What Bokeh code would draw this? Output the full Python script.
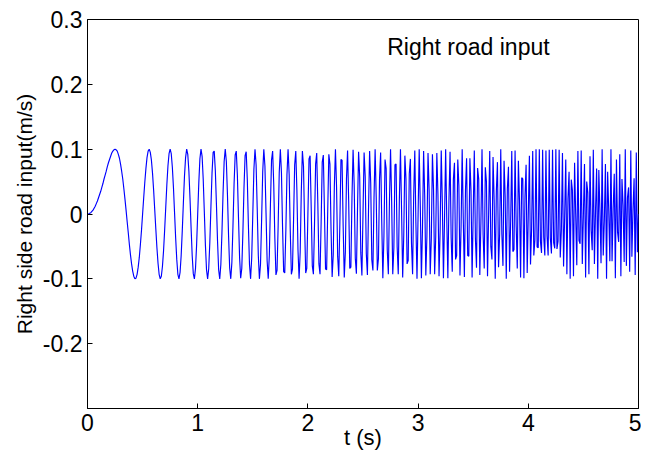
from bokeh.plotting import figure
from bokeh.models import FixedTicker, Label, ColumnDataSource
from bokeh.embed import file_html
from bokeh.resources import INLINE

SAMPLE_STEP_S = 0.01
ROAD_INPUT_MMS = [
    0, 0, 1, 2, 4, 6, 9, 12, 16, 20,
    25, 30, 35, 41, 47, 54, 60, 66, 73, 79,
    84, 89, 94, 97, 99, 100, 99, 97, 92, 86,
    77, 66, 54, 39, 23, 6, -12, -29, -47, -63,
    -77, -88, -96, -100, -99, -93, -82, -67, -47, -25,
    0, 25, 49, 70, 87, 97, 100, 95, 83, 63,
    37, 7, -23, -52, -76, -93, -100, -96, -81, -57,
    -25, 10, 45, 74, 93, 100, 93, 72, 41, 2,
    -37, -70, -93, -100, -90, -64, -26, 17, 58, 87,
    100, 92, 66, 25, -21, -64, -92, -100, -84, -48,
    0, 48, 85, 100, 89, 54, 4, -48, -86, -100,
    -84, -44, 11, 63, 95, 97, 67, 15, -42, -86,
    -100, -78, -29, 32, 81, 100, 81, 30, -33, -83,
    -100, -75, -19, 46, 91, 97, 60, -5, -67, -99,
    -84, -29, 40, 90, 96, 54, -17, -78, -100, -68,
    0, 69, 100, 76, 9, -64, -100, -77, -9, 65,
    100, 74, 2, -72, -100, -64, 14, 83, 97, 46,
    -37, -94, -87, -18, 64, 100, 64, -20, -89, -91,
    -25, 61, 100, 61, -26, -93, -85, -8, 76, 97,
    37, -55, -100, -59, 34, 97, 74, -15, -91, -84,
    0, 85, 90, 10, -80, -93, -16, 77, 94, 17,
    -77, -93, -14, 80, 91, 6, -85, -86, 6, 92,
    77, -23, -97, -63, 43, 100, 42, -65, -96, -15,
    84, 83, -19, -98, -58, 54, 98, 20, -84, -82,
    25, 99, 45, -68, -92, 6, 96, 57, -60, -95,
    0, 95, 58, -61, -94, 6, 97, 48, -71, -87,
    25, 100, 26, -87, -69, 54, 95, -10, -99, -34,
    84, 70, -55, -93, 19, 100, 19, -93, -52, 76,
    77, -51, -93, 22, 100, 6, -98, -32, 90, 54,
    -77, -72, 62, 85, -45, -93, 29, 98, -14, -100,
    0, 100, 12, -99, -21, 97, 28, -95, -34, 94,
    37, -93, -38, 92, 38, -93, -35, 94, 31, -96,
    -25, 98, 17, -99, -6, 100, -6, -99, 21, 96,
    -37, -89, 53, 79, -70, -64, 84, 44, -95, -20,
    100, -8, -97, 37, 86, -64, -65, 86, 36, -98,
    0, 98, -38, -83, 71, 54, -94, -13, 100, -32,
    -84, 72, 50, -96, -1, 97, -50, -70, 88, 22,
    -100, 35, 80, -82, -31, 100, -31, -80, 82, 27,
    -100, 39, 73, -89, -11, 97, -58, -55, 98, -18,
    -84, 82, 21, -98, 56, 54, -99, 27, 76, -91,
    0, 90, -78, -23, 97, -64, -40, 100, -51, -52,
    100, -42, -60, 99, -36, -64, 98, -34, -64, 99,
    -37, -61, 99, -44, -53, 100, -54, -42, 99, -67,
    -25, 94, -81, -3, 84, -93, 24, 65, -100, 53,
    37, -96, 79, 0, -79, 97, -41, -46, 98, -77,
    0, 77, -98, 50, 33, -93, 89, -25, -56, 99,
    -77, 5, 70, -100, 68, 6, -76, 100, -64, -10,
    77, -100, 65, 5, -73, 100, -73, 7, 62, -99,
    84, -28, -43, 92, -96, 54, 14, -74, 100, -80,
    25, 41, -89, 98, -66, 6, 55, -94, 95, -59,
    0,
]

X_TICKS = [0, 1, 2, 3, 4, 5]
Y_TICKS = [-0.2, -0.1, 0, 0.1, 0.2, 0.3]
Y_TICK_LABELS = ["-0.2", "-0.1", "0", "0.1", "0.2", "0.3"]
TITLE_TEXT = "Right road input"
X_LABEL = "t (s)"
Y_LABEL = "Right side road input(m/s)"

t = [i * SAMPLE_STEP_S for i in range(len(ROAD_INPUT_MMS))]
y = [v / 1000.0 for v in ROAD_INPUT_MMS]
src = ColumnDataSource(data=dict(t=t, y=y))

FONT = "Liberation Sans"

p = figure(frame_width=551, frame_height=389, x_range=(0, 5), y_range=(-0.3, 0.3),
           output_backend="svg", toolbar_location=None,
           min_border_left=87, min_border_right=3, min_border_top=19, min_border_bottom=10)
p.background_fill_color = "white"
p.border_fill_color = "white"
p.outline_line_color = "black"
p.outline_line_width = 1
p.xgrid.visible = False
p.ygrid.visible = False

p.line("t", "y", source=src, line_color="#0000ff", line_width=1.15)

p.xaxis.ticker = FixedTicker(ticks=X_TICKS)
p.yaxis.ticker = FixedTicker(ticks=Y_TICKS)
p.yaxis.major_label_overrides = dict(zip(Y_TICKS, Y_TICK_LABELS))
p.xaxis.axis_label = X_LABEL
p.yaxis.axis_label = Y_LABEL
for ax in (p.xaxis[0], p.yaxis[0]):
    ax.axis_line_color = "black"
    ax.major_tick_line_color = "black"
    ax.major_tick_in = 5
    ax.major_tick_out = 0
    ax.minor_tick_line_color = None
    ax.major_label_text_font = FONT
    ax.major_label_text_font_size = "23px"
    ax.major_label_text_color = "black"
    ax.axis_label_text_font = FONT
    ax.axis_label_text_font_size = "22px"
    ax.axis_label_text_font_style = "normal"
    ax.axis_label_text_color = "black"
p.yaxis.axis_label_text_font_size = "21px"
p.xaxis.major_label_standoff = 5
p.xaxis.axis_label_standoff = -9
p.yaxis.major_label_standoff = 5
p.yaxis.axis_label_standoff = 4

p.add_layout(Label(x=2.72, y=0.258, text=TITLE_TEXT, text_font=FONT,
                   text_font_size="23px", text_color="black", text_baseline="alphabetic"))

open("out.html", "w").write(file_html(p, INLINE))
